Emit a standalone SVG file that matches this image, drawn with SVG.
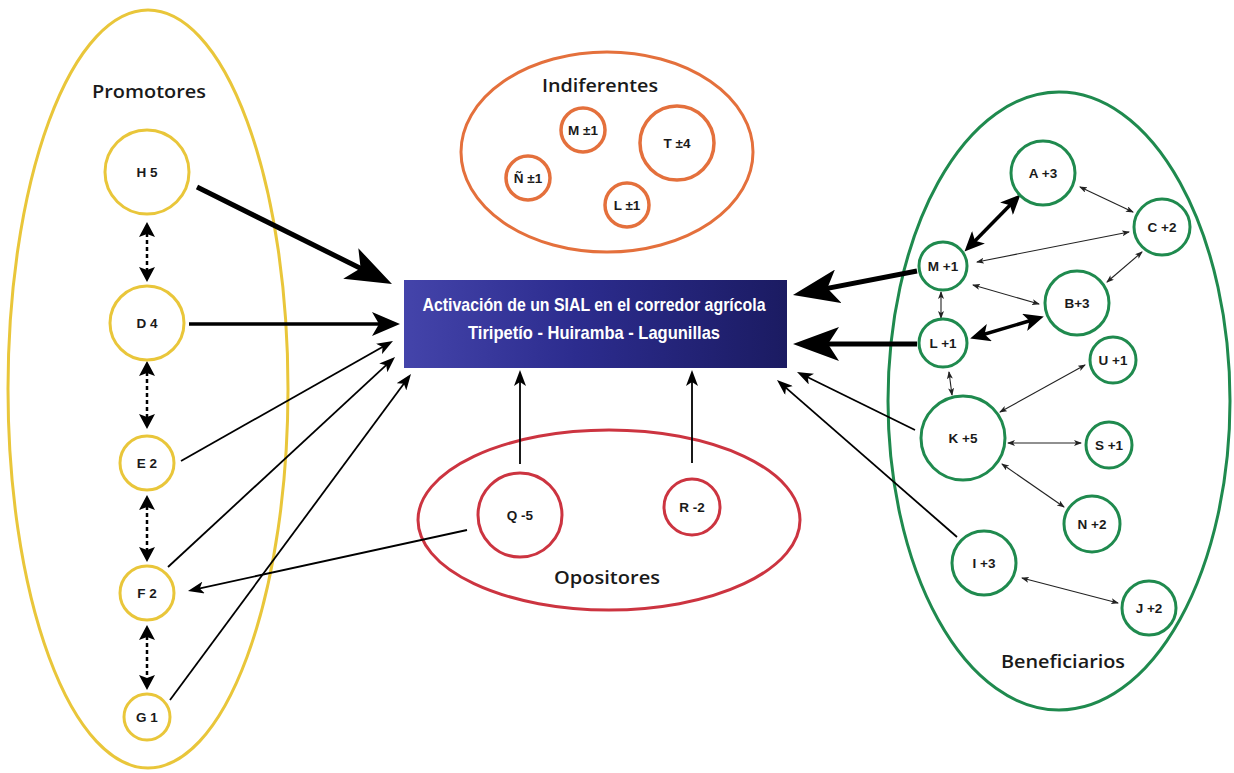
<svg xmlns="http://www.w3.org/2000/svg" width="1234" height="773" viewBox="0 0 1234 773">
  <style>
    .grp { fill: none; stroke-width: 3; }
    .prom { stroke: #e9c63a; }
    .ind { stroke: #e4703c; }
    .opo { stroke: #cc3440; }
    .ben { stroke: #1f8a4e; }
    .node { fill: #fff; stroke-width: 3; }
    .node.ind { stroke-width: 3.5; }
    .title { font-family: "Open Sans", "Liberation Sans", sans-serif; font-weight: 600; font-size: 18px; fill: #1a1a1a; text-anchor: middle; }
    .lbl { font-family: "Liberation Sans", "Open Sans", sans-serif; font-weight: 700; font-size: 13.5px; fill: #1a1a1a; text-anchor: middle; }
    .box-text { font-family: "Liberation Sans", "Open Sans", sans-serif; font-weight: 700; font-size: 19px; fill: #fff; text-anchor: middle; }
    .big { stroke: #000; stroke-width: 5; fill: none; }
    .med { stroke: #000; stroke-width: 3.5; fill: none; }
    .thin { stroke: #000; stroke-width: 1.8; fill: none; }
    .dash { stroke: #000; stroke-width: 2.5; stroke-dasharray: 4 3; fill: none; }
    .rel { stroke: #222; stroke-width: 1.1; fill: none; }
    .relbold { stroke: #000; stroke-width: 3.5; fill: none; }
  </style>
  <defs>
    <linearGradient id="boxFill" x1="0" y1="0" x2="1" y2="0">
      <stop offset="0" stop-color="#4444aa"/>
      <stop offset="0.45" stop-color="#2c2c8e"/>
      <stop offset="1" stop-color="#1b1b62"/>
    </linearGradient>
    <!-- large notched head for the strongest influences -->
    <marker id="headBig" markerUnits="userSpaceOnUse" viewBox="0 -17 46 34" markerWidth="46" markerHeight="34" refX="36" refY="0" orient="auto">
      <path d="M0,-17 L46,0 L0,17 L11,0 Z" fill="#000"/>
    </marker>
    <marker id="headMed" markerUnits="userSpaceOnUse" viewBox="0 -12 28 24" markerWidth="28" markerHeight="24" refX="21" refY="0" orient="auto">
      <path d="M0,-12 L28,0 L0,12 L7,0 Z" fill="#000"/>
    </marker>
    <marker id="headThin" markerUnits="userSpaceOnUse" viewBox="0 -6 16 12" markerWidth="16" markerHeight="12" refX="12" refY="0" orient="auto">
      <path d="M0,-6 L16,0 L0,6 L4,0 Z" fill="#000"/>
    </marker>
    <marker id="headDash" markerUnits="userSpaceOnUse" viewBox="0 -8 15 16" markerWidth="15" markerHeight="16" refX="11" refY="0" orient="auto-start-reverse">
      <path d="M0,-8 L15,0 L0,8 L3,0 Z" fill="#000"/>
    </marker>
    <marker id="headRel" markerUnits="userSpaceOnUse" viewBox="0 -3 8 6" markerWidth="8" markerHeight="6" refX="7" refY="0" orient="auto-start-reverse">
      <path d="M0,-3 L8,0 L0,3 L2,0 Z" fill="#222"/>
    </marker>
    <marker id="headRelBold" markerUnits="userSpaceOnUse" viewBox="0 -9 20 18" markerWidth="20" markerHeight="18" refX="15" refY="0" orient="auto-start-reverse">
      <path d="M0,-9 L20,0 L0,9 L5,0 Z" fill="#000"/>
    </marker>
  </defs>

  <rect width="1234" height="773" fill="#fff"/>

  <!-- actor groups -->
  <g id="group-promotores">
    <ellipse class="grp prom" cx="148" cy="389" rx="140" ry="379"/>
    <text class="title" x="149" y="98" font-weight="700" textLength="114" lengthAdjust="spacingAndGlyphs">Promotores</text>
  </g>
  <g id="group-indiferentes">
    <ellipse class="grp ind" cx="607" cy="152" rx="146" ry="100"/>
    <text class="title" x="600" y="92" textLength="116" lengthAdjust="spacingAndGlyphs">Indiferentes</text>
  </g>
  <g id="group-opositores">
    <ellipse class="grp opo" cx="609" cy="520" rx="191" ry="90"/>
    <text class="title" x="607" y="584" font-size="19" textLength="106" lengthAdjust="spacingAndGlyphs">Opositores</text>
  </g>
  <g id="group-beneficiarios">
    <ellipse class="grp ben" cx="1059" cy="401" rx="171" ry="309"/>
    <text class="title" x="1063" y="668" textLength="124" lengthAdjust="spacingAndGlyphs">Beneficiarios</text>
  </g>

  <!-- central objective -->
  <g id="objective">
    <rect x="404" y="280" width="383" height="88" fill="url(#boxFill)"/>
    <text class="box-text" x="594" y="311" textLength="343" lengthAdjust="spacingAndGlyphs">Activación de un SIAL en el corredor agrícola</text>
    <text class="box-text" x="594" y="339" textLength="252" lengthAdjust="spacingAndGlyphs">Tiripetío - Huiramba - Lagunillas</text>
  </g>

  <!-- connectors -->
  <g id="connectors">
    <!-- promoters towards the objective -->
    <path class="big" d="M197,187 L383,279.5" marker-end="url(#headBig)"/>
    <path class="med" d="M189,324 L393,324" marker-end="url(#headMed)"/>
    <path class="thin" d="M181,461 L389.5,343" marker-end="url(#headThin)"/>
    <path class="thin" d="M168,567 L392.1,359.7" marker-end="url(#headThin)"/>
    <path class="thin" d="M170,700 L408.6,377.2" marker-end="url(#headThin)"/>
    <!-- links among promoters -->
    <path class="dash" d="M147,226 L147,278" marker-start="url(#headDash)" marker-end="url(#headDash)"/>
    <path class="dash" d="M147,365 L147,425" marker-start="url(#headDash)" marker-end="url(#headDash)"/>
    <path class="dash" d="M147,499 L147,558" marker-start="url(#headDash)" marker-end="url(#headDash)"/>
    <path class="dash" d="M147,629 L147,686" marker-start="url(#headDash)" marker-end="url(#headDash)"/>
    <!-- opponents -->
    <path class="thin" d="M520,464 L520,374" marker-end="url(#headThin)"/>
    <path class="thin" d="M692,463 L692,374" marker-end="url(#headThin)"/>
    <path class="thin" d="M467,530 L191.9,590.1" marker-end="url(#headThin)"/>
    <!-- beneficiaries towards the objective -->
    <path class="big" d="M917,271 L802.8,293.1" marker-end="url(#headBig)"/>
    <path class="big" d="M917,344 L803,344" marker-end="url(#headBig)"/>
    <path class="thin" d="M915,430 L800.6,373.8" stroke-width="2.5" marker-end="url(#headThin)"/>
    <path class="thin" d="M957,537 L780,382.6" stroke-width="2.5" marker-end="url(#headThin)"/>
    <!-- links among beneficiaries -->
    <path class="relbold" d="M968,248 L1017,198" marker-start="url(#headRelBold)" marker-end="url(#headRelBold)"/>
    <path class="relbold" d="M975,337 L1039,318" marker-start="url(#headRelBold)" marker-end="url(#headRelBold)"/>
    <path class="rel" d="M1080,187 L1133,212" marker-start="url(#headRel)" marker-end="url(#headRel)"/>
    <path class="rel" d="M977,262 L1129,232" marker-start="url(#headRel)" marker-end="url(#headRel)"/>
    <path class="rel" d="M1142,252 L1107,282" marker-start="url(#headRel)" marker-end="url(#headRel)"/>
    <path class="rel" d="M973,285 L1039,304" marker-start="url(#headRel)" marker-end="url(#headRel)"/>
    <path class="rel" d="M941,292 L941,318" marker-start="url(#headRel)" marker-end="url(#headRel)"/>
    <path class="rel" d="M949,372 L952,395" marker-start="url(#headRel)" marker-end="url(#headRel)"/>
    <path class="rel" d="M1085,365 L1000,412" marker-start="url(#headRel)" marker-end="url(#headRel)"/>
    <path class="rel" d="M1008,443 L1081,443" marker-start="url(#headRel)" marker-end="url(#headRel)"/>
    <path class="rel" d="M1002,464 L1064,507" marker-start="url(#headRel)" marker-end="url(#headRel)"/>
    <path class="rel" d="M1022,578 L1118,603" marker-start="url(#headRel)" marker-end="url(#headRel)"/>
  </g>

  <!-- promoters -->
  <g id="node-H5"><circle class="node prom" cx="147" cy="172" r="42"/><text class="lbl" x="147" y="177">H 5</text></g>
  <g id="node-D4"><circle class="node prom" cx="147" cy="323" r="37"/><text class="lbl" x="147" y="328">D 4</text></g>
  <g id="node-E2"><circle class="node prom" cx="147" cy="463" r="27"/><text class="lbl" x="147" y="468">E 2</text></g>
  <g id="node-F2"><circle class="node prom" cx="147" cy="593" r="27"/><text class="lbl" x="147" y="598">F 2</text></g>
  <g id="node-G1"><circle class="node prom" cx="147" cy="717" r="23"/><text class="lbl" x="147" y="722">G 1</text></g>

  <!-- indifferent actors -->
  <g id="node-M-ind"><circle class="node ind" cx="583" cy="130" r="22"/><text class="lbl" x="583" y="135">M ±1</text></g>
  <g id="node-T"><circle class="node ind" cx="677" cy="143" r="37"/><text class="lbl" x="677" y="148">T ±4</text></g>
  <g id="node-N-tilde"><circle class="node ind" cx="528" cy="178" r="22"/><text class="lbl" x="528" y="183">Ñ ±1</text></g>
  <g id="node-L-ind"><circle class="node ind" cx="627" cy="205" r="22"/><text class="lbl" x="627" y="210">L ±1</text></g>

  <!-- opponents -->
  <g id="node-Q"><circle class="node opo" cx="520" cy="515" r="42"/><text class="lbl" x="520" y="520">Q -5</text></g>
  <g id="node-R"><circle class="node opo" cx="692" cy="507" r="28"/><text class="lbl" x="692" y="512">R -2</text></g>

  <!-- beneficiaries -->
  <g id="node-A"><circle class="node ben" cx="1043" cy="173" r="32"/><text class="lbl" x="1043" y="178">A +3</text></g>
  <g id="node-C"><circle class="node ben" cx="1162" cy="227" r="28"/><text class="lbl" x="1162" y="232">C +2</text></g>
  <g id="node-M"><circle class="node ben" cx="943" cy="266" r="24"/><text class="lbl" x="943" y="271">M +1</text></g>
  <g id="node-B"><circle class="node ben" cx="1077" cy="303" r="32"/><text class="lbl" x="1077" y="308">B+3</text></g>
  <g id="node-L"><circle class="node ben" cx="943" cy="343" r="24"/><text class="lbl" x="943" y="348">L +1</text></g>
  <g id="node-U"><circle class="node ben" cx="1113" cy="360" r="23"/><text class="lbl" x="1113" y="365">U +1</text></g>
  <g id="node-K"><circle class="node ben" cx="963" cy="438" r="42"/><text class="lbl" x="963" y="443">K +5</text></g>
  <g id="node-S"><circle class="node ben" cx="1109" cy="445" r="23"/><text class="lbl" x="1109" y="450">S +1</text></g>
  <g id="node-N"><circle class="node ben" cx="1092" cy="524" r="28"/><text class="lbl" x="1092" y="529">N +2</text></g>
  <g id="node-I"><circle class="node ben" cx="984" cy="563" r="32"/><text class="lbl" x="984" y="568">I +3</text></g>
  <g id="node-J"><circle class="node ben" cx="1149" cy="608" r="27"/><text class="lbl" x="1149" y="613">J +2</text></g>
</svg>
